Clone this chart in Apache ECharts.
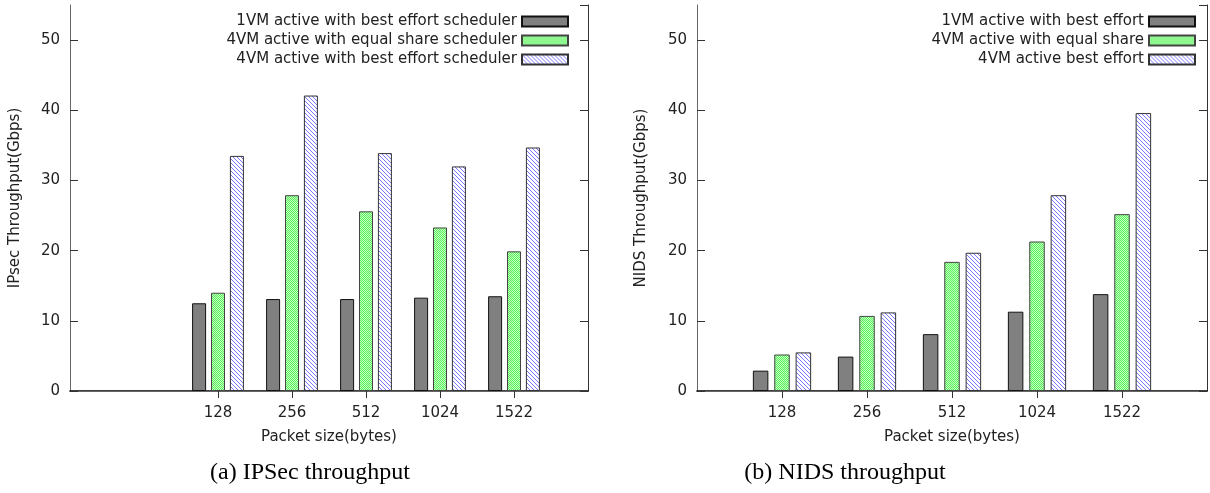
<!DOCTYPE html>
<html>
<head>
<meta charset="utf-8">
<script src="https://cdn.jsdelivr.net/npm/echarts@6/dist/echarts.min.js"></script>
<style>
  html, body { margin: 0; padding: 0; background: #fff; }
  #main { width: 1210px; height: 493px; }
</style>
</head>
<body>
<div id="main"></div>
<script>
var categories = ['128', '256', '512', '1024', '1522'];

var ipsec1vmBest = [12.5, 13.1, 13.1, 13.3, 13.5];
var ipsec4vmEqual = [14.0, 27.9, 25.6, 23.3, 19.9];
var ipsec4vmBest = [33.5, 42.1, 33.9, 32.0, 34.7];

var nids1vmBest = [2.9, 4.9, 8.1, 11.3, 13.8];
var nids4vmEqual = [5.2, 10.7, 18.4, 21.3, 25.2];
var nids4vmBest = [5.5, 11.2, 19.7, 27.9, 39.6];

var ipsecNames = ['1VM active with best effort scheduler', '4VM active with equal share scheduler', '4VM active with best effort scheduler'];
var nidsNames = ['1VM active with best effort', '4VM active with equal share', '4VM active best effort'];

var yMin = 0, yMax = 55, yStep = 10;

// gnuplot style fills
function greenPattern() {
    var c = document.createElement('canvas');
    c.width = 2; c.height = 2;
    var ctx = c.getContext('2d');
    ctx.fillStyle = '#c0ffc0';
    ctx.fillRect(0, 0, 2, 2);
    ctx.fillStyle = '#5cf05c';
    ctx.fillRect(0, 0, 1, 1);
    ctx.fillRect(1, 1, 1, 1);
    return c;
}
function bluePattern() {
    var c = document.createElement('canvas');
    c.width = 4; c.height = 4;
    var ctx = c.getContext('2d');
    ctx.fillStyle = '#ffffff';
    ctx.fillRect(0, 0, 4, 4);
    ctx.fillStyle = '#7a7aff';
    for (var i = 0; i < 4; i++) ctx.fillRect(i, i, 1, 1);
    return c;
}
var greenFill = { image: greenPattern(), repeat: 'repeat' };
var blueFill = { image: bluePattern(), repeat: 'repeat' };

function pad(arr, before, after) {
    var out = [];
    for (var i = 0; i < before; i++) out.push(null);
    out = out.concat(arr);
    for (var j = 0; j < after; j++) out.push(null);
    return out;
}

var font = 'DejaVu Sans';
var textColor = '#222';
var borderColor = '#666';

var leftCats = pad(categories, 2, 1).map(function (v) { return v === null ? '' : v; });
var rightCats = pad(categories, 1, 1).map(function (v) { return v === null ? '' : v; });

function realTick(index, value) {
    return value !== '';
}

function xAxes(gridIndex, data) {
    return [{
        type: 'category',
        gridIndex: gridIndex,
        data: data,
        boundaryGap: false,
        position: 'bottom',
        name: 'Packet size(bytes)',
        nameLocation: 'middle',
        nameGap: 39,
        nameTextStyle: { fontFamily: font, fontSize: 15, color: textColor },
        axisLine: { lineStyle: { color: '#000', width: 1.5 } },
        axisTick: { show: false },
        axisLabel: { fontFamily: font, fontSize: 15, color: textColor, margin: 15, interval: 0 },
        splitLine: { show: false }
    }, {
        type: 'category',
        gridIndex: gridIndex,
        data: data,
        boundaryGap: false,
        position: 'top',
        axisLine: { lineStyle: { color: borderColor, width: 1 } },
        axisTick: { inside: true, length: 7, interval: realTick, lineStyle: { color: '#333' } },
        axisLabel: { show: false },
        splitLine: { show: false }
    }];
}

function yAxes(gridIndex, name, gap) {
    return [{
        type: 'value',
        gridIndex: gridIndex,
        min: yMin,
        max: yMax,
        interval: yStep,
        position: 'left',
        name: name,
        nameLocation: 'middle',
        nameGap: gap,
        nameTextStyle: { fontFamily: font, fontSize: 15, color: textColor },
        axisLine: { show: true, lineStyle: { color: borderColor, width: 1 } },
        axisTick: { show: true, inside: true, length: 8, lineStyle: { color: '#333' } },
        axisLabel: { fontFamily: font, fontSize: 15, color: textColor, margin: 10, showMaxLabel: false },
        splitLine: { show: false }
    }, {
        type: 'value',
        gridIndex: gridIndex,
        min: yMin,
        max: yMax,
        interval: yStep,
        position: 'right',
        axisLine: { show: true, lineStyle: { color: '#333', width: 1 } },
        axisTick: { show: true, inside: true, length: 8, lineStyle: { color: '#333' } },
        axisLabel: { show: false },
        splitLine: { show: false }
    }];
}

function barSeries(names, values, axisIdx, before, after, width, gap) {
    var fills = ['#808080', greenFill, blueFill];
    var borders = ['#111', '#444', '#333'];
    return values.map(function (vals, k) {
        return {
            name: names[k],
            type: 'bar',
            xAxisIndex: axisIdx,
            yAxisIndex: axisIdx,
            barWidth: width,
            barGap: gap,
            itemStyle: { color: fills[k], borderColor: borders[k], borderWidth: 1 },
            emphasis: { disabled: true },
            data: pad(vals, before, after)
        };
    });
}

function legend(names, right) {
    return {
        data: names,
        orient: 'vertical',
        align: 'right',
        right: right,
        top: 14,
        padding: 0,
        itemGap: 4,
        itemWidth: 46,
        itemHeight: 10,
        icon: 'rect',
        selectedMode: false,
        textStyle: { fontFamily: font, fontSize: 15, color: textColor, lineHeight: 15 }
    };
}

var chart = echarts.init(document.getElementById('main'));

var option = {
    animation: false,
    backgroundColor: '#fff',
    title: [{
        text: '(a) IPSec throughput',
        left: 310,
        top: 461,
        textAlign: 'center',
        padding: 0,
        textStyle: { fontFamily: 'Liberation Serif', fontSize: 24, fontWeight: 'normal', color: '#000' }
    }, {
        text: '(b) NIDS throughput',
        left: 845,
        top: 461,
        textAlign: 'center',
        padding: 0,
        textStyle: { fontFamily: 'Liberation Serif', fontSize: 24, fontWeight: 'normal', color: '#000' }
    }],
    legend: [legend(ipsecNames, 641), legend(nidsNames, 14)],
    grid: [
        { left: 70, top: 5, width: 518, height: 386 },
        { left: 697, top: 5, width: 520, height: 386 }
    ],
    xAxis: xAxes(0, leftCats).concat(xAxes(1, rightCats)),
    yAxis: yAxes(0, 'IPsec Throughput(Gbps)', 47).concat(yAxes(1, 'NIDS Throughput(Gbps)', 48)),
    series: barSeries(ipsecNames, [ipsec1vmBest, ipsec4vmEqual, ipsec4vmBest], 0, 2, 1, 14, '35%')
        .concat(barSeries(nidsNames, [nids1vmBest, nids4vmEqual, nids4vmBest], 2, 1, 1, 15.5, '38%'))
};

chart.setOption(option);
</script>
</body>
</html>
